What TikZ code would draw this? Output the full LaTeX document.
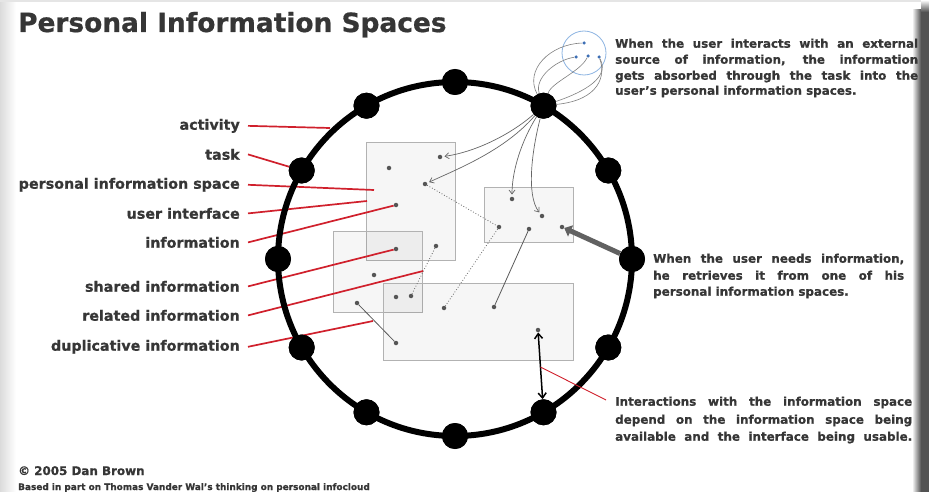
\documentclass[tikz,border=0pt]{standalone}
\usepackage{fontspec}
\setmainfont{DejaVu Sans}[BoldFeatures={FakeBold=0.7}]
\usetikzlibrary{arrows.meta,calc}
\definecolor{txt}{HTML}{363636}
\definecolor{redl}{HTML}{D0202C}
\definecolor{dotc}{HTML}{555555}
\definecolor{bluec}{HTML}{8DB4E2}
\definecolor{bluedot}{HTML}{3D6FB5}
\begin{document}
\begin{tikzpicture}[x=1pt,y=-1pt,
  lab/.style={font=\bfseries\fontsize{14.3}{16}\selectfont, text=txt, inner sep=0pt, anchor=mid east},
  rtxt/.style={font=\bfseries\fontsize{11.9}{14}\selectfont, text=txt, inner sep=0pt, anchor=mid west},
  bigdot/.style={circle, fill=black, inner sep=0pt, minimum size=26pt},
  sdot/.style={circle, fill=dotc, inner sep=0pt, minimum size=4.5pt},
  bdot/.style={circle, fill=bluedot, inner sep=0pt, minimum size=3.5pt},
  spacebox/.style={draw=black!30, line width=0.9pt, fill=black, fill opacity=0.035},
  redline/.style={draw=redl, line width=1.7pt},
  inarrow/.style={draw=black!60, line width=0.7pt, shorten >=2pt, -{Straight Barb[length=4pt,width=6pt]}},
  srcline/.style={draw=black!50, line width=0.6pt},
  dotline/.style={draw=black!60, line width=0.8pt, dotted},
  link/.style={draw=black!65, line width=0.8pt},
]
% page and shadows
\useasboundingbox (0,0) rectangle (929,492);
\fill[white] (0,0) rectangle (929,492);
\shade[left color=black!14, right color=white] (0,0) rectangle (16,492);
\fill[black!10] (0,0) rectangle (929,2);
\shade[left color=white, right color=black!68] (912,10) rectangle (921,492);
\fill[black!68] (921,10) rectangle (929,492);
\shade[top color=white, bottom color=black!68] (921,0) rectangle (929,12);

% title
\node[font=\bfseries\fontsize{26.4}{30}\selectfont, text=txt, anchor=base west, inner sep=0pt] (title) at (18,32) {Personal Information Spaces};

% information spaces
\draw[spacebox] (366,142) rectangle (455,260);
\draw[spacebox] (484,187) rectangle (573,242);
\draw[spacebox] (333,231) rectangle (422,312);
\draw[spacebox] (383,283) rectangle (573,360);

% information dots
\foreach \n/\x/\y in {d1/440/157, d2/389/168, d3/425/184, d4/396/205, d5/512/199, d6/542/216,
  d7/499/227, d8/529/229, d9/562/227, d10/436/246, d11/396/249, d12/374/275, d13/396/297,
  d14/411/296, d15/357/303, d16/444/308, d17/494/307, d18/396/343, d19/538/330}
  \node[sdot] (\n) at (\x,\y) {};

% links between information
\draw[dotline] (d3) -- (d7);
\draw[dotline] (d7) -- (d16);
\draw[dotline] (d10) -- (d14);
\draw[link] (d8) -- (d17);
\draw[link] (d15) -- (d18);

% labels
\node[lab] (l1) at (240,127) {activity};
\node[lab] (l2) at (240,157) {task};
\node[lab] (l3) at (240,186) {personal information space};
\node[lab] (l4) at (240,216) {user interface};
\node[lab] (l5) at (240,245) {information};
\node[lab] (l6) at (240,289) {shared information};
\node[lab] (l7) at (240,318) {related information};
\node[lab] (l8) at (240,348) {duplicative information};

\coordinate (c) at (455,259);
\foreach \i in {0,...,11}
  \node[bigdot] (n\i) at ($(c)+({90-30*\i}:177pt)$) {};

\coordinate (e1) at (330,128);
\coordinate (e3) at (374,190);
\coordinate (e4) at (367,201);
\coordinate (e7) at (423,271);
\coordinate (e8) at (373,321);
\draw[redline] ([xshift=8pt]l1.east) -- (e1);
\draw[redline] ([xshift=8pt]l2.east) -- (n10);
\draw[redline] ([xshift=8pt]l3.east) -- (e3);
\draw[redline] ([xshift=8pt]l4.east) -- (e4);
\draw[redline] ([xshift=8pt]l5.east) -- (d4);
\draw[redline] ([xshift=8pt]l6.east) -- (d11);
\draw[redline] ([xshift=8pt]l7.east) -- (e7);
\draw[redline] ([xshift=8pt]l8.east) -- (e8);

% the activity ring
\draw[line width=6pt] (c) circle [radius=177pt];
\foreach \i in {0,...,11}
  \node[bigdot] at (n\i) {};

% external source
\draw[draw=bluec, line width=0.8pt] (584,53) circle [radius=22pt];
\node[bdot] (b1) at (584,43) {};
\node[bdot] (b2) at (576,57) {};
\node[bdot] (b3) at (588,56) {};
\node[bdot] (b4) at (599,57) {};
\draw[srcline] (n1) .. controls (524,70) and (550,44) .. (b1);
\draw[srcline] (n1) .. controls (534,78) and (556,60) .. (b2);
\draw[srcline] (n1) .. controls (552,82) and (580,72) .. (b3);
\draw[srcline] (n1) .. controls (600,100) and (606,75) .. (b4);
\draw[srcline] (n1) .. controls (575,95) and (612,80) .. (b4);

\draw[inarrow] (n1) .. controls (510,135) and (475,152) .. (d1);
\draw[inarrow] (n1) .. controls (505,150) and (460,168) .. (d3);
\draw[inarrow] (n1) .. controls (522,140) and (512,170) .. (d5);
\draw[inarrow] (n1) .. controls (532,150) and (526,195) .. (d6);

% retrieval
\draw[draw=black!62, line width=5pt, -{Triangle[length=7pt,width=12pt]}] (n3) -- (d9);

% interaction
\draw[line width=1.5pt, {Straight Barb[length=5pt,width=8pt]}-{Straight Barb[length=5pt,width=8pt]}] (d19) -- (n5);

% right texts
\node[rtxt] (r1a) at (615,45) {\makebox[303pt][s]{When the user interacts with an external}};
\node[rtxt] (r1b) at (615,61) {\makebox[303pt][s]{source of information, the information}};
\node[rtxt] (r1c) at (615,77) {\makebox[303pt][s]{gets absorbed through the task into the}};
\node[rtxt] (r1d) at (615,92) {user's personal information spaces.};

\node[rtxt] (r2a) at (653,260) {\makebox[251pt][s]{When the user needs information,}};
\node[rtxt] (r2b) at (653,277) {\makebox[251pt][s]{he retrieves it from one of his}};
\node[rtxt] (r2c) at (653,293) {personal information spaces.};

\node[rtxt] (r3a) at (615,403) {\makebox[297pt][s]{Interactions with the information space}};
\node[rtxt] (r3b) at (615,421) {\makebox[297pt][s]{depend on the information space being}};
\node[rtxt] (r3c) at (615,438) {\makebox[297pt][s]{available and the interface being usable.}};

\coordinate (ia) at ($(d19)!0.45!(n5)$);
\coordinate (ib) at (606,400);
\draw[draw=redl, line width=0.9pt] (ia) -- (ib);

% footer
\node[font=\bfseries\fontsize{11.9}{14}\selectfont, text=txt, anchor=base west, inner sep=0pt] (copy) at (18,475) {\textcopyright{} 2005 Dan Brown};
\node[font=\bfseries\fontsize{8.93}{10}\selectfont, text=txt, anchor=base west, inner sep=0pt] (based) at (18,490) {Based in part on Thomas Vander Wal's thinking on personal infocloud};
\end{tikzpicture}
\end{document}
